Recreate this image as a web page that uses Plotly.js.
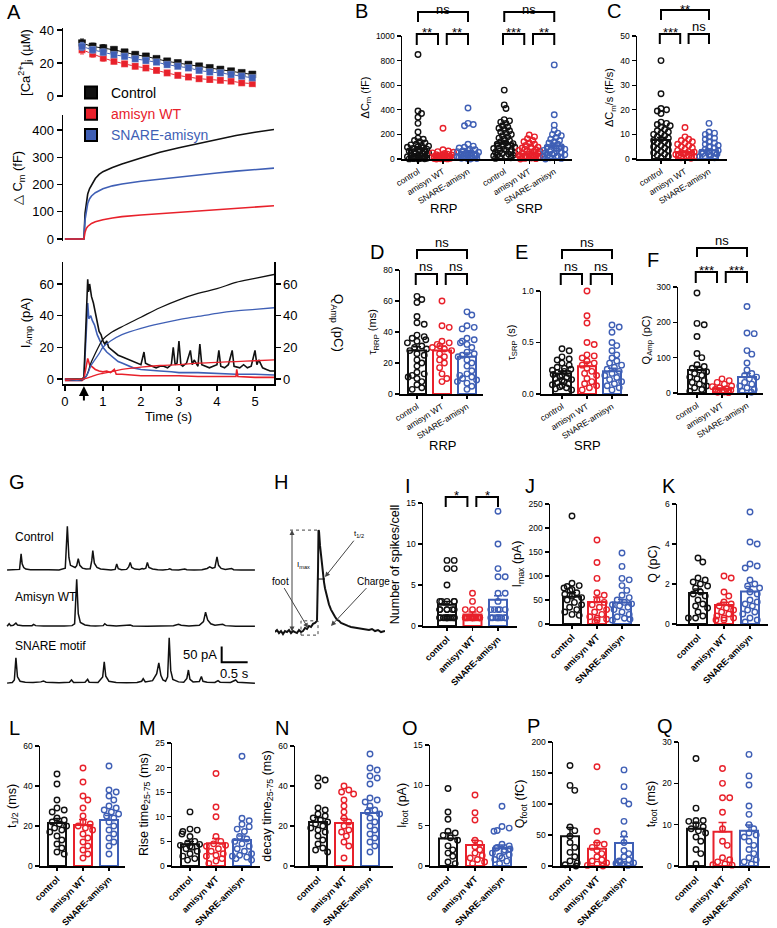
<!DOCTYPE html>
<html>
<head>
<meta charset="utf-8">
<script src="https://cdn.plot.ly/plotly-3.0.1.min.js"></script>
<style>
  html, body { margin: 0; padding: 0; background: #fff; }
  #fig { width: 777px; height: 928px; }
</style>
</head>
<body>
<div id="fig"></div>
<script>
// ---- panel A : [Ca2+]i ----
var caTime = [0.45, 0.73, 1.01, 1.29, 1.57, 1.85, 2.13, 2.41, 2.69, 2.97, 3.25, 3.53, 3.81, 4.09, 4.37, 4.65, 4.93];
var caControl = [32, 30, 29, 28, 26.5, 25, 24, 22.5, 21, 20, 19, 18, 17, 16, 15, 14, 13];
var caWT = [28, 25.5, 23, 21, 19.5, 18, 17, 15.5, 14, 12.5, 11.5, 10.5, 10, 9.5, 9, 8, 7.5];
var caSnare = [30, 28, 26.5, 25, 24, 22.5, 21.5, 20.5, 19, 18, 17, 15.5, 14.5, 14, 13, 12, 11];
var caErr = [2.5, 2, 2, 1.5, 1.5, 1.5, 1.5, 1.2, 1.2, 1.2, 1.2, 1, 1, 1, 1, 1, 1];

// ---- panel A : capacitance ----
var cmTime = [0, 0.5, 0.53, 0.56, 0.6, 0.65, 0.7, 0.8, 0.9, 1.0, 1.25, 1.5, 2, 2.5, 3, 3.5, 4, 4.5, 5, 5.5];
var cmControl = [0, 0, 95, 135, 165, 185, 198, 222, 237, 247, 262, 275, 297, 318, 335, 350, 365, 380, 392, 402];
var cmWT = [0, 0, 25, 38, 46, 52, 57, 63, 67, 71, 77, 82, 88, 93, 98, 103, 108, 113, 118, 122];
var cmSnare = [0, 0, 70, 105, 130, 148, 158, 170, 178, 184, 195, 202, 212, 220, 228, 235, 242, 249, 255, 260];

// ---- panel A : amperometric current and charge ----
var iCtlT = [0, 0.45, 0.5, 0.55, 0.6, 0.62, 0.65, 0.7, 0.75, 0.8, 0.85, 0.9, 0.95, 1.0, 1.05, 1.1, 1.15, 1.2, 1.3, 1.4, 1.5, 1.6, 1.7, 1.8, 1.9, 2.0, 2.08, 2.12, 2.2, 2.3, 2.4, 2.5, 2.6, 2.7, 2.8, 2.85, 2.9, 2.95, 3.0, 3.05, 3.1, 3.2, 3.3, 3.35, 3.4, 3.5, 3.55, 3.6, 3.7, 3.8, 3.9, 4.0, 4.05, 4.1, 4.2, 4.3, 4.4, 4.45, 4.6, 4.7, 4.8, 4.9, 5.0, 5.05, 5.1, 5.2, 5.3, 5.4, 5.5];
var iCtlV = [0, 0, 1, 30, 63, 55, 60, 52, 48, 42, 36, 30, 28, 24, 22, 24, 20, 19, 17, 15, 14, 13, 12, 11, 10, 9, 17, 10, 9, 8, 7, 8, 8, 7, 9, 20, 9, 10, 24, 9, 8, 10, 18, 9, 12, 8, 22, 9, 8, 7, 8, 9, 18, 8, 7, 9, 18, 8, 7, 9, 7, 8, 18, 9, 12, 7, 6, 5, 5];
var iWtT = [0, 0.45, 0.5, 0.55, 0.6, 0.65, 0.7, 0.8, 0.9, 1.0, 1.1, 1.2, 1.3, 1.35, 1.5, 1.7, 2.0, 2.5, 3.0, 3.5, 4.0, 4.5, 4.52, 4.55, 5.0, 5.5];
var iWtV = [-1, -1, 0, 8, 13, 9, 8, 6, 5, 4.5, 5, 4, 6, 3, 3, 2.5, 2, 2, 2, 1.5, 1.5, 1.5, 6, 1.5, 1, 1];
var iSnT = [0, 0.45, 0.5, 0.55, 0.6, 0.63, 0.68, 0.72, 0.78, 0.85, 0.9, 1.0, 1.1, 1.2, 1.3, 1.4, 1.5, 1.6, 1.7, 1.8, 2.0, 2.2, 2.5, 2.8, 3.0, 3.5, 4.0, 4.5, 5.0, 5.5];
var iSnV = [-1, -1, 0, 25, 48, 38, 40, 37, 34, 28, 25, 20, 17, 15, 13, 11, 10, 9, 8, 7, 6, 5.5, 5, 4.5, 4, 4, 3.5, 3, 3, 2.5];
var qTime = [0, 0.5, 0.7, 0.9, 1.0, 1.2, 1.5, 2.0, 2.5, 3.0, 3.5, 4.0, 4.5, 5.0, 5.5];
var qControl = [0, 0, 11, 21, 25, 29, 33, 39, 45, 50, 54, 57, 61, 63.5, 66];
var qWT = [0, 0, 1.5, 3, 3.5, 4.5, 6, 7.5, 8.5, 9, 10, 10.5, 11, 11.5, 12];
var qSnare = [0, 0, 9, 16, 20, 24, 28, 32, 35, 37.5, 39.5, 41.5, 43, 44, 45];
var stimTime = 0.5;

// ---- bar panels: groups ----
var groupNames = ['control', 'amisyn WT', 'SNARE-amisyn'];

var bRrpCtl = [850, 390, 370, 340, 290, 220, 170, 160, 150, 140, 130, 120, 115, 110, 105, 100, 95, 90, 85, 80, 75, 70, 65, 60, 55, 50, 45, 40, 35, 30, 28, 25, 22, 20, 18, 15, 12, 10, 8, 6, 5, 4, 3, 2, 1, 0];
var bRrpWT = [250, 75, 65, 60, 55, 50, 45, 40, 35, 32, 30, 28, 25, 22, 20, 18, 16, 14, 12, 10, 9, 8, 6, 5, 4, 3, 2, 1, 0];
var bRrpSn = [415, 290, 280, 270, 120, 105, 95, 90, 80, 75, 70, 65, 60, 55, 50, 45, 40, 35, 30, 28, 25, 22, 20, 18, 15, 12, 10, 8, 6, 4, 2, 0];
var bSrpCtl = [560, 440, 410, 320, 310, 300, 290, 270, 260, 250, 240, 230, 220, 210, 200, 190, 180, 170, 160, 150, 140, 130, 125, 120, 110, 100, 95, 90, 85, 80, 75, 70, 65, 60, 55, 50, 45, 40, 35, 30, 25, 20, 15, 10, 5];
var bSrpWT = [195, 180, 165, 150, 140, 130, 120, 110, 100, 95, 90, 85, 80, 75, 70, 65, 60, 55, 50, 45, 40, 35, 30, 28, 25, 22, 20, 18, 15, 12, 10, 8, 5, 3, 0];
var bSrpSn = [765, 360, 275, 235, 210, 200, 190, 175, 160, 150, 140, 130, 120, 110, 100, 95, 90, 85, 80, 75, 70, 65, 60, 55, 50, 45, 40, 35, 30, 25, 20, 15, 10, 5, 0];
var bMeans = [80, 25, 57, 128, 42, 105];
var bSems = [18, 6, 12, 15, 6, 16];

var cCtl = [40, 26.5, 20.5, 20, 19.5, 18.5, 15, 14.5, 14, 13.5, 13, 12, 11.5, 11, 10.5, 10, 9.5, 9, 8.5, 8, 7.5, 7, 6.5, 6, 5.5, 5, 4.5, 4, 3.5, 3, 2.5, 2, 1.5, 1, 0.5];
var cWT = [12.8, 9, 8, 7.5, 7, 6.5, 6, 5.5, 5, 4.5, 4, 3.5, 3, 2.8, 2.5, 2.2, 2, 1.8, 1.5, 1.2, 1, 0.8, 0.5, 0.3];
var cSn = [14.5, 11, 10.5, 10, 9, 8.5, 8, 7, 6.5, 6, 5.5, 5, 4.5, 4, 3.5, 3, 2.8, 2.5, 2.2, 2, 1.8, 1.5, 1.2, 1, 0.5];
var cMeans = [7.7, 2.8, 3.6];
var cSems = [1.0, 0.4, 0.5];

var dCtl = [63, 61, 59, 50, 46, 45, 38, 37, 36, 35, 34, 33, 31, 30, 29, 28, 26, 25, 22, 20, 18, 14, 13, 12, 11, 10, 8, 6, 4, 3];
var dWT = [60, 44, 43, 34, 33, 32, 31, 30, 29, 28, 26, 24, 22, 20, 17, 13, 10, 8];
var dSn = [53, 51, 44, 43, 42, 36, 35, 34, 33, 32, 30, 27, 26, 25, 24, 22, 20, 18, 15, 13, 12, 11, 10, 9, 8, 7, 5, 3];
var dMeans = [28, 28, 24];
var dSems = [2.5, 3, 2.5];

var eCtl = [0.44, 0.42, 0.36, 0.34, 0.33, 0.3, 0.28, 0.26, 0.25, 0.24, 0.23, 0.22, 0.21, 0.2, 0.19, 0.18, 0.17, 0.16, 0.15, 0.14, 0.13, 0.12, 0.11, 0.1, 0.09, 0.08, 0.07, 0.06, 0.05, 0.04];
var eWT = [1.0, 0.76, 0.69, 0.5, 0.48, 0.38, 0.37, 0.35, 0.32, 0.3, 0.28, 0.25, 0.22, 0.2, 0.18, 0.15, 0.12, 0.1, 0.08, 0.06, 0.04];
var eSn = [0.67, 0.65, 0.6, 0.5, 0.47, 0.42, 0.38, 0.35, 0.32, 0.3, 0.28, 0.26, 0.24, 0.22, 0.2, 0.18, 0.16, 0.14, 0.12, 0.1, 0.08, 0.06, 0.04];
var eMeans = [0.2, 0.27, 0.22];
var eSems = [0.02, 0.04, 0.03];

var fCtl = [283, 197, 193, 160, 112, 100, 80, 75, 70, 65, 60, 55, 50, 45, 40, 35, 30, 25, 20, 15, 10, 5];
var fWT = [40, 35, 30, 25, 20, 18, 15, 12, 10, 8, 5, 3, 2, 1];
var fSn = [245, 170, 168, 120, 110, 85, 65, 55, 50, 45, 40, 30, 25, 20, 15, 10, 5, 2];
var fMeans = [65, 12, 45];
var fSems = [10, 2, 10];

var iCtl = [8, 8, 7, 7, 5, 3, 3, 3, 3, 3, 2, 2, 2, 2, 2, 2, 1, 1, 1, 1, 1, 1, 1, 1, 1, 1, 1, 1];
var iWT = [4, 3, 2, 2, 2, 1, 1, 1, 1, 1, 1, 1, 1, 1, 1, 1, 1, 1, 1, 1, 1, 1];
var iSn = [14, 10, 7, 6, 6, 4, 4, 3, 2, 2, 2, 2, 2, 1, 1, 1, 1, 1, 1, 1, 1, 1];
var iMeans = [2.6, 1.4, 3.2];
var iSems = [0.4, 0.3, 0.5];

var jCtl = [225, 85, 80, 78, 75, 72, 70, 65, 62, 58, 55, 50, 45, 40, 35, 30, 25, 20, 18];
var jWT = [175, 128, 95, 65, 60, 50, 45, 40, 35, 30, 25, 20, 15, 12, 10, 8, 5];
var jSn = [148, 120, 95, 92, 80, 70, 60, 55, 50, 45, 42, 40, 38, 35, 30, 25, 20, 15, 12, 10, 8];
var jMeans = [57, 46, 45];
var jSems = [8, 10, 6];

var kCtl = [3.3, 3.1, 2.3, 2.2, 2.1, 2.0, 1.9, 1.8, 1.6, 1.5, 1.4, 1.2, 1.0, 0.9, 0.8, 0.6, 0.4, 0.3, 0.3];
var kWT = [2.4, 2.3, 1.6, 1.4, 1.1, 1.0, 0.9, 0.8, 0.7, 0.6, 0.5, 0.4, 0.3, 0.3, 0.2, 0.2];
var kSn = [5.6, 4.1, 4.0, 3.0, 2.9, 2.8, 2.2, 2.0, 1.9, 1.8, 1.6, 1.5, 1.2, 1.1, 1.0, 0.9, 0.7, 0.6, 0.5, 0.3, 0.2, 0.1];
var kMeans = [1.55, 0.95, 1.62];
var kSems = [0.2, 0.14, 0.25];

var lCtl = [46, 41, 33, 29, 28, 27, 24, 23, 22, 21, 20, 19, 18, 17, 15, 13, 11, 9, 7, 6];
var lWT = [49, 42, 35, 33, 29, 25, 22, 21, 20, 19, 18, 16, 14, 12, 10, 8, 6, 4];
var lSn = [50, 38, 37, 35, 33, 30, 29, 28, 27, 26, 25, 24, 22, 20, 18, 16, 14, 12, 10, 6];
var lMeans = [21.5, 20.5, 23];
var lSems = [2.2, 2.8, 2.2];

var mCtl = [11, 7.5, 7.3, 7, 6.5, 6, 5, 4.7, 4.4, 4.2, 4, 3.8, 3.5, 3, 2.5, 2, 1.5, 1.2];
var mWT = [18.8, 12, 10, 6, 5, 4.5, 4.2, 4, 3.5, 3, 2.5, 2.2, 2, 1.5, 1, 0.5];
var mSn = [22.3, 9.7, 9.2, 8.5, 8, 7.5, 7, 6, 5.5, 5, 4.5, 4, 3.5, 3, 2.5, 2.2, 2, 1.8, 1.5, 1.2];
var mMeans = [4.4, 4.6, 5.3];
var mSems = [0.6, 1.0, 0.8];

var nCtl = [44, 43, 40, 29, 28, 26, 25, 24, 23, 22, 21, 20, 19, 18, 17, 15, 13, 11, 9, 8, 7];
var nWT = [40, 38, 37, 36, 33, 30, 27, 24, 22, 20, 18, 17, 15, 12, 10, 4];
var nSn = [56, 49, 48, 45, 44, 41, 34, 33, 32, 30, 28, 27, 26, 24, 22, 20, 18, 16, 14, 12, 10, 7];
var nMeans = [22, 21.5, 26.5];
var nSems = [2.2, 2.3, 2.5];

var oCtl = [9.6, 6.7, 5.8, 4.3, 4.1, 3.8, 3.5, 3.2, 2.5, 2, 1.6, 1.2, 0.5, 0.3];
var oWT = [8.8, 6.6, 5.7, 3.2, 2.8, 2.4, 2, 1.6, 1.3, 1.0, 0.8, 0.5, 0.3];
var oSn = [7.4, 4.9, 4.7, 4.4, 4.3, 2.7, 2.5, 2.3, 2.2, 2.1, 2.0, 1.8, 1.6, 1.4, 1.2, 1.0, 0.8, 0.6, 0.3];
var oMeans = [3.4, 2.6, 2.2];
var oSems = [0.7, 0.6, 0.4];

var pCtl = [162, 130, 122, 63, 57, 48, 38, 30, 22, 15, 8, 5, 2, 0];
var pWT = [160, 56, 37, 35, 30, 25, 20, 15, 10, 8, 5, 3, 1, 0];
var pSn = [155, 128, 105, 100, 72, 52, 38, 25, 20, 15, 10, 8, 6, 5, 4, 3, 2, 1];
var pMeans = [48, 28, 37];
var pSems = [14, 10, 10];

var qCtl = [26, 14, 11, 11, 10.8, 10, 9.5, 9, 8.5, 8, 7, 6, 4, 3, 0.5];
var qWTv = [23.6, 20, 16.5, 16.5, 13, 9, 6, 5, 2, 1.5, 1, 0.5, 0.3, 0.2];
var qSn = [27, 21.8, 19.6, 14.5, 12.5, 10, 9, 8, 7.5, 7, 6, 5, 4, 3, 2, 1.5, 1, 0.5];
var qMeans = [9, 8.3, 8.5];
var qSems = [1.4, 2.2, 1.4];

// ---- panel G : example amperometric recordings (pA vs s) ----
var gCtlT = [0, 0.1, 0.2, 0.24, 0.27, 0.29, 0.32, 0.36, 0.45, 0.6, 0.8, 1.0, 1.08, 1.12, 1.16, 1.19, 1.22, 1.27, 1.31, 1.34, 1.37, 1.4, 1.45, 1.52, 1.6, 1.63, 1.65, 1.68, 1.73, 1.8, 1.9, 2.0, 2.08, 2.11, 2.14, 2.2, 2.3, 2.34, 2.37, 2.4, 2.46, 2.55, 2.6, 2.63, 2.67, 2.7, 2.73, 2.8, 2.9, 3.0, 3.1, 3.13, 3.17, 3.3, 3.42, 3.46, 3.6, 3.75, 3.85, 3.9, 3.95, 4.0, 4.04, 4.07, 4.12, 4.2, 4.32, 4.36, 4.5, 4.77];
var gCtlV = [0, 1, 0, 2, 52, 20, 8, 3, 1, 0, 1, 0, 3, 6, 140, 40, 15, 10, 8, 14, 36, 15, 6, 3, 4, 30, 62, 22, 8, 3, 1, 0, 2, 19, 4, 1, 2, 10, 24, 8, 3, 2, 5, 3, 6, 24, 8, 3, 1, 0, 2, 4, 1, 0, 3, 1, 0, 1, 5, 10, 6, 8, 42, 15, 5, 2, 5, 1, 0, 0];
var gWtT = [0, 0.02, 0.04, 0.07, 0.12, 0.17, 0.2, 0.3, 0.4, 0.48, 0.51, 0.55, 0.7, 0.9, 1.1, 1.25, 1.3, 1.34, 1.37, 1.41, 1.5, 1.6, 1.7, 1.85, 1.88, 1.92, 2.1, 2.37, 2.42, 2.7, 3.0, 3.2, 3.3, 3.35, 3.5, 3.7, 3.78, 3.82, 3.86, 3.92, 4.0, 4.15, 4.2, 4.4, 4.77];
var gWtV = [0, 3, 8, 2, 3, 10, 4, 2, 1, 2, 6, 2, 1, 0, 1, 2, 8, 150, 40, 12, 4, 2, 1, 2, 8, 3, 1, 4, 1, 0, 1, 2, 6, 3, 1, 3, 15, 45, 20, 8, 3, 6, 2, 0, 0];
var gSnT = [0, 0.1, 0.14, 0.17, 0.2, 0.25, 0.35, 0.5, 0.65, 0.7, 0.75, 0.9, 1.0, 1.2, 1.24, 1.28, 1.5, 1.55, 1.58, 1.75, 1.84, 1.87, 1.9, 1.96, 2.1, 2.3, 2.5, 2.59, 2.62, 2.66, 2.8, 2.88, 2.92, 2.96, 3.0, 3.05, 3.09, 3.12, 3.15, 3.19, 3.24, 3.3, 3.4, 3.46, 3.49, 3.52, 3.58, 3.7, 3.74, 3.77, 3.85, 4.0, 4.06, 4.1, 4.3, 4.4, 4.44, 4.6, 4.77];
var gSnV = [0, 2, 10, 81, 20, 6, 3, 2, 4, 7, 3, 2, 1, 3, 10, 2, 3, 12, 3, 2, 20, 68, 22, 6, 2, 1, 2, 6, 14, 4, 8, 30, 65, 25, 10, 6, 20, 145, 40, 12, 8, 4, 3, 15, 42, 12, 4, 5, 21, 6, 3, 2, 8, 3, 2, 10, 3, 1, 0];
var gLabels = ['Control', 'Amisyn WT', 'SNARE motif'];
var gScale = {pA: 50, s: 0.5};

// ---- panel H : single spike schematic ----
var hT = [0, 2, 4, 6, 8, 10, 12, 14, 16, 18, 20, 22, 24, 26, 28, 30, 32, 34, 36, 38, 40, 42, 43, 43.5, 44, 45, 46, 47, 48, 49, 50, 52, 54, 56, 58, 60, 62, 64, 66, 68, 70, 73, 76, 79, 82, 85, 88, 91, 94, 97, 100, 103, 106, 110];
var hI = [0, 2, -1, 1, -2, 1, 0, 2, -1, 1, 0, -1, 2, 0, 1, 4, 3, 6, 5, 8, 9, 11, 60, 100, 99, 85, 74, 64, 56, 49, 43, 34, 27, 22, 18, 15, 12, 11, 9, 8, 7, 6, 5, 4.5, 4, 3.5, 3, 2.5, 2, 3, 1, 2, 0, 1];

// ---------------------------------------------------------------
var W = 777, H = 928;
var FONT = 'Liberation Sans, Arial, Helvetica, sans-serif';
var BLACK = '#111111', RED = '#e8212b', BLUE = '#3f5fb5';
var COLS = [BLACK, RED, BLUE];

function xd(a, b) { return [a / W, b / W]; }
function yd(t, b) { return [1 - b / H, 1 - t / H]; }
function py(p) { return 1 - p / H; }
function px(p) { return p / W; }

var data = [];
var layout = {
    width: W, height: H,
    margin: {l: 0, r: 0, t: 0, b: 0},
    paper_bgcolor: '#fff',
    plot_bgcolor: 'rgba(0,0,0,0)',
    font: {family: FONT, color: '#000', size: 12},
    barmode: 'overlay',
    showlegend: true,
    legend: {x: px(71), y: py(77), xanchor: 'left', yanchor: 'top', bgcolor: 'rgba(0,0,0,0)',
             font: {size: 14}, tracegroupgap: 0, itemsizing: 'constant'},
    annotations: [],
    shapes: []
};

function axLine(extra) {
    var a = {showline: true, linecolor: '#000', linewidth: 1.5, ticks: 'outside', ticklen: 5,
             tickwidth: 1.3, tickcolor: '#000', showgrid: false, zeroline: false,
             tickfont: {size: 13, family: FONT}};
    for (var k in extra) a[k] = extra[k];
    return a;
}

// ---------- panel A ----------
var aX = xd(63, 274), aRange = [-0.05, 5.5];
layout.xaxis = {domain: aX, range: aRange, visible: false, anchor: 'y'};
layout.yaxis = axLine({domain: yd(28, 97), range: [-0.6, 41.2], anchor: 'x', tickvals: [0, 20, 40],
    title: {text: '[Ca<sup>2+</sup>]<sub>i</sub> (µM)', font: {size: 13}, standoff: 6}});
layout.xaxis2 = {domain: aX, range: aRange, visible: false, anchor: 'y2'};
layout.yaxis2 = axLine({domain: yd(115, 241), range: [-7.3, 455], anchor: 'x2', tickvals: [0, 100, 200, 300, 400],
    title: {text: '△ C<sub>m</sub> (fF)', font: {size: 13}, standoff: 6}});
layout.xaxis3 = axLine({domain: aX, range: aRange, anchor: 'y3', tickvals: [0, 1, 2, 3, 4, 5],
    title: {text: 'Time (s)', font: {size: 13}, standoff: 4}});
layout.yaxis3 = axLine({domain: yd(262, 384), range: [-3.2, 73.9], anchor: 'x3', tickvals: [0, 20, 40, 60],
    title: {text: 'I<sub>Amp</sub> (pA)', font: {size: 13}, standoff: 6}});
layout.yaxis4 = axLine({range: [-3.2, 73.9], anchor: 'x3', overlaying: 'y3', side: 'right', tickvals: [0, 20, 40, 60]});

var caSets = [[caControl, BLACK], [caWT, RED], [caSnare, BLUE]];
caSets.forEach(function (s, k) {
    data.push({x: caTime, y: s[0], xaxis: 'x', yaxis: 'y', mode: 'lines+markers', showlegend: false,
        line: {color: s[1], width: 1},
        marker: {symbol: 'square', size: 7, color: s[1], line: {color: k === 0 ? '#000' : 'rgba(255,255,255,0.5)', width: 0.5}},
        error_y: {type: 'data', array: caErr, color: s[1], thickness: 1, width: 2},
        cliponaxis: false});
});
var legendNames = ['Control', '<span style="color:' + RED + '">amisyn WT</span>', '<span style="color:' + BLUE + '">SNARE-amisyn</span>'];
COLS.forEach(function (c, k) {
    data.push({x: [null], y: [null], xaxis: 'x', yaxis: 'y', mode: 'markers', name: legendNames[k], showlegend: true,
        marker: {symbol: 'square', size: 12, color: c, line: {color: '#000', width: 1}}});
});
[[cmControl, BLACK], [cmSnare, BLUE], [cmWT, RED]].forEach(function (s) {
    data.push({x: cmTime, y: s[0], xaxis: 'x2', yaxis: 'y2', mode: 'lines', showlegend: false,
        line: {color: s[1], width: 1.6}});
});
[[iSnT, iSnV, BLUE], [iCtlT, iCtlV, BLACK], [iWtT, iWtV, RED]].forEach(function (s) {
    data.push({x: s[0], y: s[1], xaxis: 'x3', yaxis: 'y3', mode: 'lines', showlegend: false,
        line: {color: s[2], width: 1.6}});
});
[[qControl, BLACK], [qSnare, BLUE], [qWT, RED]].forEach(function (s) {
    data.push({x: qTime, y: s[0], xaxis: 'x3', yaxis: 'y4', mode: 'lines', showlegend: false,
        line: {color: s[1], width: 1.3, shape: 'spline'}});
});
layout.annotations.push({x: px(338), y: py(323), xref: 'paper', yref: 'paper', text: 'Q<sub>Amp</sub> (pC)',
    textangle: 90, showarrow: false, font: {size: 13}});
layout.annotations.push({x: stimTime, y: py(386), xref: 'x3', yref: 'paper', text: '', showarrow: true,
    ax: 0, ay: 16, arrowhead: 2, arrowsize: 1, arrowwidth: 2, arrowcolor: '#000'});

// ---------- bar + dot panels ----------
function swarm(vals, x0, pxX, pxY, r, maxPx) {
    var order = vals.map(function (v, i) { return i; }).sort(function (a, b) { return vals[b] - vals[a]; });
    var placed = [], xs = new Array(vals.length);
    order.forEach(function (i) {
        var yp = vals[i] * pxY, best = 0, done = false;
        for (var k = 0; k < 60 && !done; k++) {
            var off = (k % 2 ? 1 : -1) * Math.ceil(k / 2) * r * 0.8;
            if (Math.abs(off) > maxPx) break;
            var ok = placed.every(function (p) {
                return (p[0] - off) * (p[0] - off) + (p[1] - yp) * (p[1] - yp) >= 4 * r * r * 0.85;
            });
            if (ok) { best = off; done = true; }
        }
        if (!done) best = ((placed.length % 2) ? 1 : -1) * (placed.length % 5) * maxPx / 5;
        placed.push([best, yp]);
        xs[i] = x0 + best / pxX;
    });
    return xs;
}

var panels = [
    {n: 5, x: [402, 572], y: [36, 159], c0: 418, s: 25, pos: [0, 1, 2, 3.45, 4.45, 5.45], cols: [0, 1, 2, 0, 1, 2],
     groups: [bRrpCtl, bRrpWT, bRrpSn, bSrpCtl, bSrpWT, bSrpSn], means: bMeans, sems: bSems, yr: [0, 1000], dtick: 200,
     title: 'ΔC<sub>m</sub> (fF)', bold: false, spread: 11, r: 2.2,
     sig: [[0, 1, 0, '**'], [1, 2, 0, '**'], [0, 2, 1, 'ns'], [3, 4, 0, '***'], [4, 5, 0, '**'], [3, 5, 1, 'ns']],
     br: [[34, 45], [12, 22]], under: [[1, 'RRP'], [4, 'SRP']], underY: 208},
    {n: 6, x: [637, 727], y: [36, 159], c0: 661, s: 24, groups: [cCtl, cWT, cSn], means: cMeans, sems: cSems,
     yr: [0, 50], dtick: 10, title: 'ΔC<sub>m</sub>/s (fF/s)', bold: false, spread: 10, r: 2.3,
     sig: [[0, 1, 0, '***'], [1, 2, 0, 'ns'], [0, 2, 1, '**']], br: [[34, 44], [10, 20]]},
    {n: 7, x: [400, 483], y: [270, 394], c0: 417, s: 25, groups: [dCtl, dWT, dSn], means: dMeans, sems: dSems,
     yr: [0, 80], dtick: 20, title: 'τ<sub>RRP</sub> (ms)', bold: false, spread: 11,
     sig: [[0, 1, 0, 'ns'], [1, 2, 0, 'ns'], [0, 2, 1, 'ns']], br: [[274, 285], [250, 259]],
     under: [[1, 'RRP']], underY: 445},
    {n: 8, x: [541, 628], y: [291, 394], c0: 562, s: 25, groups: [eCtl, eWT, eSn], means: eMeans, sems: eSems,
     yr: [0, 1], dtick: 0.5, fmt: '.1f', title: 'τ<sub>SRP</sub> (s)', bold: false, spread: 11,
     sig: [[0, 1, 0, 'ns'], [1, 2, 0, 'ns'], [0, 2, 1, 'ns']], br: [[274, 285], [250, 259]],
     under: [[1, 'SRP']], underY: 445},
    {n: 9, x: [678, 763], y: [287, 393], c0: 697, s: 25, groups: [fCtl, fWT, fSn], means: fMeans, sems: fSems,
     yr: [0, 300], dtick: 100, title: 'Q<sub>Amp</sub> (pC)', bold: false, spread: 11,
     sig: [[0, 1, 0, '***'], [1, 2, 0, '***'], [0, 2, 1, 'ns']], br: [[272, 283], [248, 257]]},
    {n: 10, x: [423, 517], y: [503, 626], c0: 447, s: 25.5, groups: [iCtl, iWT, iSn], means: iMeans, sems: iSems,
     yr: [0, 15], dtick: 5, title: 'Number of spikes/cell', bold: true, spread: 9,
     sig: [[0, 1, 0, '*'], [1, 2, 0, '*']], br: [[497, 507]]},
    {n: 11, x: [550, 640], y: [504, 624], c0: 572, s: 25, groups: [jCtl, jWT, jSn], means: jMeans, sems: jSems,
     yr: [0, 250], dtick: 50, title: 'I<sub>max</sub> (pA)', bold: true, spread: 10},
    {n: 12, x: [677, 768], y: [504, 624], c0: 698, s: 26, groups: [kCtl, kWT, kSn], means: kMeans, sems: kSems,
     yr: [0, 6], dtick: 2, title: 'Q (pC)', bold: true, spread: 10},
    {n: 13, x: [40, 125], y: [746, 866], c0: 57, s: 26, groups: [lCtl, lWT, lSn], means: lMeans, sems: lSems,
     yr: [0, 60], dtick: 20, title: 't<sub>1/2</sub> (ms)', bold: true, spread: 10},
    {n: 14, x: [172, 260], y: [743, 866], c0: 190, s: 26, groups: [mCtl, mWT, mSn], means: mMeans, sems: mSems,
     yr: [0, 25], dtick: 5, title: 'Rise time<sub>25-75</sub> (ms)', bold: true, spread: 10},
    {n: 15, x: [295, 393], y: [746, 866], c0: 318, s: 26, groups: [nCtl, nWT, nSn], means: nMeans, sems: nSems,
     yr: [0, 60], dtick: 20, title: 'decay time<sub>25-75</sub> (ms)', bold: true, spread: 10},
    {n: 16, x: [430, 527], y: [745, 866], c0: 448, s: 27, groups: [oCtl, oWT, oSn], means: oMeans, sems: oSems,
     yr: [0, 15], dtick: 5, title: 'I<sub>foot</sub> (pA)', bold: true, spread: 10},
    {n: 17, x: [553, 643], y: [742, 866], c0: 570, s: 27, groups: [pCtl, pWT, pSn], means: pMeans, sems: pSems,
     yr: [0, 200], dtick: 50, title: 'Q<sub>foot</sub> (fC)', bold: true, spread: 10},
    {n: 18, x: [679, 770], y: [742, 866], c0: 696, s: 26.5, groups: [qCtl, qWTv, qSn], means: qMeans, sems: qSems,
     yr: [0, 30], dtick: 10, title: 't<sub>foot</sub> (ms)', bold: true, spread: 10}
];

panels.forEach(function (p) {
    var xa = 'x' + p.n, ya = 'y' + p.n;
    var pos = p.pos || [0, 1, 2];
    var cols = p.cols || [0, 1, 2];
    var pxY = (p.y[1] - p.y[0]) / (p.yr[1] - p.yr[0]);
    var barW = 18 / p.s;
    var names = pos.map(function (q, i) {
        var nm = groupNames[cols[i]];
        return p.bold ? '<b>' + nm + '</b>' : nm;
    });
    layout['xaxis' + p.n] = axLine({domain: xd(p.x[0], p.x[1]), anchor: ya,
        range: [(p.x[0] - p.c0) / p.s, (p.x[1] - p.c0) / p.s],
        tickvals: pos, ticktext: names, tickangle: p.bold ? -45 : -32, ticklen: 3,
        tickfont: {size: p.bold ? 9 : 8.5, family: FONT}});
    layout['yaxis' + p.n] = axLine({domain: yd(p.y[0], p.y[1]), anchor: xa, range: p.yr, dtick: p.dtick,
        tick0: 0, tickformat: p.fmt || '', ticklen: 4, tickfont: {size: 8.5, family: FONT},
        title: {text: p.title, font: {size: p.bold ? 12.5 : 11}, standoff: 4}});

    p.groups.forEach(function (vals, g) {
        var c = COLS[cols[g]];
        data.push({type: 'bar', x: [pos[g]], y: [p.means[g]], xaxis: xa, yaxis: ya, width: barW,
            showlegend: false, marker: {color: 'rgba(255,255,255,0)', line: {color: c, width: 2}},
            error_y: {type: 'data', array: [p.sems[g]], arrayminus: [0], symmetric: false,
                      color: c, thickness: 1.5, width: 4}});
    });
    p.groups.forEach(function (vals, g) {
        var c = COLS[cols[g]];
        data.push({type: 'scatter', mode: 'markers', xaxis: xa, yaxis: ya, showlegend: false, cliponaxis: false,
            x: swarm(vals, pos[g], p.s, pxY, p.r || 3, p.spread), y: vals,
            marker: {symbol: 'circle-open', size: 5.5, color: c, line: {width: 1.4, color: c}}});
    });

    (p.sig || []).forEach(function (sg) {
        var a = pos[sg[0]], b = pos[sg[1]], lvl = sg[2];
        var yy = p.br[lvl];
        if (lvl === 0) {
            if (pos.indexOf(a) % 3 === 0) { a -= 0.05; b -= 0.2; } else { a += 0.15; }
        }
        layout.shapes.push({type: 'path', xref: xa, yref: 'paper',
            path: 'M ' + a + ',' + py(yy[1]) + ' L ' + a + ',' + py(yy[0]) + ' L ' + b + ',' + py(yy[0]) + ' L ' + b + ',' + py(yy[1]),
            line: {color: '#000', width: 2}});
        var isStar = sg[3].charAt(0) === '*';
        var topPx = Math.max(0, yy[0] - (isStar ? 11 : 17));
        layout.annotations.push({x: (a + b) / 2, y: py(topPx), xref: xa, yref: 'paper', text: sg[3],
            showarrow: false, yanchor: 'top', font: {size: 13}});
    });
    (p.under || []).forEach(function (u) {
        layout.annotations.push({x: pos[u[0]], y: py(p.underY), xref: xa, yref: 'paper', text: u[1],
            showarrow: false, yanchor: 'middle', font: {size: 13}});
    });
});

// ---------- panel G ----------
var gOffsets = [362, 182, 0];
layout.xaxis19 = {domain: xd(5, 257), range: [-0.04, 4.81], visible: false, anchor: 'y19'};
layout.yaxis19 = {domain: yd(515, 695), range: [-38, 538], visible: false, anchor: 'x19'};
[[gCtlT, gCtlV], [gWtT, gWtV], [gSnT, gSnV]].forEach(function (s, k) {
    data.push({x: s[0], y: s[1].map(function (v) { return v + gOffsets[k]; }), xaxis: 'x19', yaxis: 'y19',
        mode: 'lines', showlegend: false, line: {color: '#111', width: 1.5}});
    layout.annotations.push({x: 0.115, y: gOffsets[k] + [105, 93, 118][k], xref: 'x19', yref: 'y19', text: gLabels[k],
        showarrow: false, xanchor: 'left', font: {size: 12}});
});
var sbT = 4.13, sbY = 67;
data.push({x: [sbT, sbT, sbT + gScale.s], y: [sbY + gScale.pA, sbY, sbY], xaxis: 'x19', yaxis: 'y19',
    mode: 'lines', showlegend: false, line: {color: '#000', width: 2}});
layout.annotations.push({x: sbT - 0.06, y: sbY + gScale.pA / 2, xref: 'x19', yref: 'y19', text: gScale.pA + ' pA',
    showarrow: false, xanchor: 'right', font: {size: 13}});
layout.annotations.push({x: sbT + gScale.s / 2, y: sbY - 6, xref: 'x19', yref: 'y19', text: gScale.s + ' s',
    showarrow: false, yanchor: 'top', font: {size: 13}});

// ---------- panel H ----------
layout.xaxis20 = {domain: xd(275, 385), range: [0, 110], visible: false, anchor: 'y20'};
layout.yaxis20 = {domain: yd(525, 640), range: [-7.8, 105], visible: false, anchor: 'x20'};
data.push({x: hT, y: hI, xaxis: 'x20', yaxis: 'y20', mode: 'lines', showlegend: false, cliponaxis: false,
    line: {color: '#111', width: 2}});
layout.shapes.push({type: 'line', xref: 'x20', yref: 'y20', x0: 15, x1: 43.5, y0: 100, y1: 100,
    line: {color: '#444', width: 1, dash: 'dot'}});
layout.shapes.push({type: 'rect', xref: 'x20', yref: 'y20', x0: 26, x1: 43, y0: -3, y1: 11,
    line: {color: '#444', width: 1, dash: 'dot'}});
layout.shapes.push({type: 'line', xref: 'x20', yref: 'y20', x0: 43, x1: 50, y0: 52, y1: 52,
    line: {color: '#000', width: 1}});
layout.annotations.push({x: 17, y: 100, ax: 17, ay: -1, xref: 'x20', yref: 'y20', axref: 'x20', ayref: 'y20',
    text: '', showarrow: true, arrowside: 'end+start', arrowhead: 2, arrowsize: 1, arrowwidth: 1});
layout.annotations.push({x: 28, y: 66, xref: 'x20', yref: 'y20', text: 'I<sub>max</sub>', showarrow: false,
    font: {size: 8}});
layout.annotations.push({x: 50, y: 54, ax: 84, ay: 96, xref: 'x20', yref: 'y20', axref: 'x20', ayref: 'y20',
    text: 't<sub>1/2</sub>', showarrow: true, arrowhead: 2, arrowsize: 1, arrowwidth: 1, font: {size: 8}});
layout.annotations.push({x: 33, y: 4, ax: 5, ay: 50, xref: 'x20', yref: 'y20', axref: 'x20', ayref: 'y20',
    text: 'foot', showarrow: true, arrowhead: 2, arrowsize: 1, arrowwidth: 1, font: {size: 10}});
layout.annotations.push({x: 56, y: 6, ax: 98, ay: 50, xref: 'x20', yref: 'y20', axref: 'x20', ayref: 'y20',
    text: 'Charge', showarrow: true, arrowhead: 2, arrowsize: 1, arrowwidth: 1, font: {size: 10}});

// ---------- panel letters ----------
var letters = [['A', 5, 12], ['B', 353, 11], ['C', 605, 11], ['D', 368, 252], ['E', 513, 252], ['F', 645, 260],
    ['G', 7, 482], ['H', 272, 482], ['I', 403, 486], ['J', 523, 486], ['K', 660, 486],
    ['L', 7, 728], ['M', 137, 728], ['N', 273, 728], ['O', 400, 728], ['P', 525, 726], ['Q', 655, 726]];
letters.forEach(function (l) {
    layout.annotations.push({x: px(l[1]), y: py(l[2]), xref: 'paper', yref: 'paper', text: l[0],
        showarrow: false, xanchor: 'left', yanchor: 'middle', font: {size: 20}});
});

Plotly.newPlot('fig', data, layout, {staticPlot: true});
</script>
</body>
</html>
